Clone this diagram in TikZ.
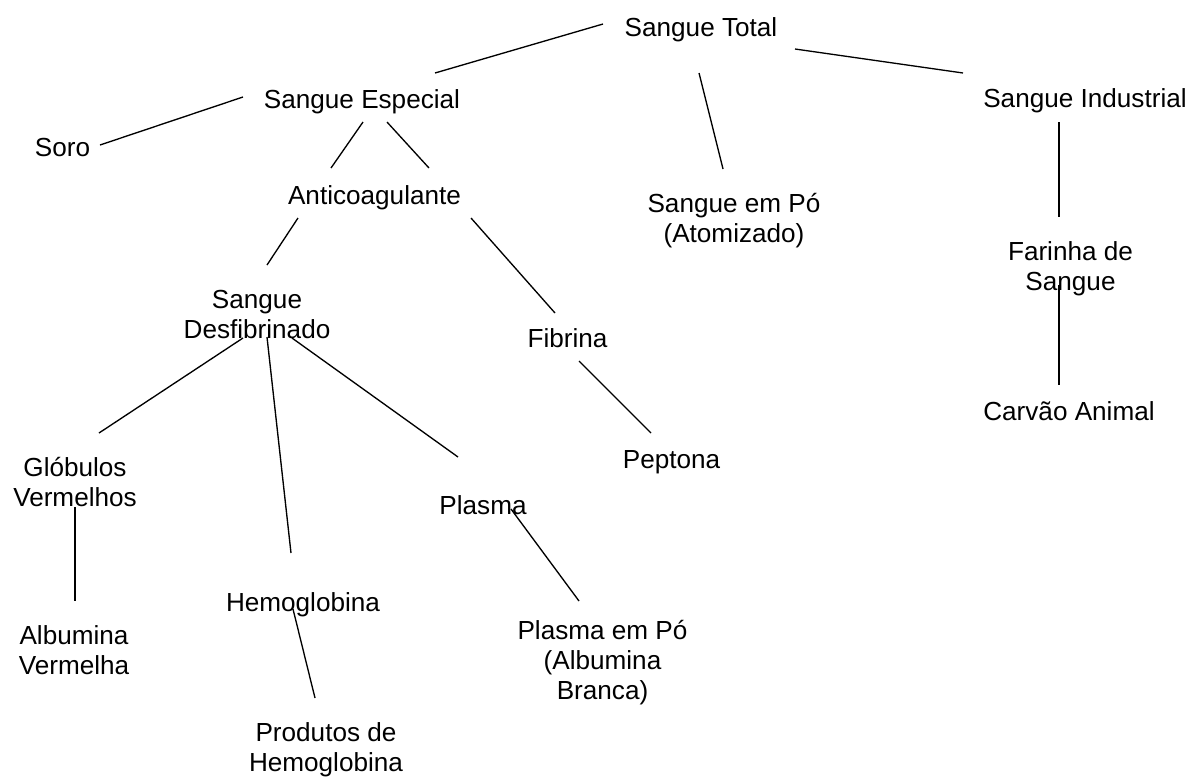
\documentclass[tikz,border=0pt]{standalone}
\usepackage{fontspec}
\setmainfont{Liberation Sans}
\begin{document}
\begin{tikzpicture}[x=0.75pt,y=-0.75pt,
  lbl/.style={anchor=north,inner sep=0pt,align=center,font=\fontsize{19.6}{22.5}\selectfont},
  link/.style={line width=1pt,black}]
\useasboundingbox (0,0) rectangle (1193,776);
\fill[white] (0,0) rectangle (1193,776);
% nodes (north anchor = first baseline - 21px)
\node[lbl] (total) at (701,15) {\strut Sangue Total};
\node[lbl] (esp) at (362,87) {\strut Sangue Especial};
\node[lbl] (ind) at (1085,86) {\strut Sangue Industrial};
\node[lbl] (soro) at (62.5,135) {\strut Soro};
\node[lbl] (anti) at (374.5,183) {\strut Anticoagulante};
\node[lbl] (po) at (734,191) {\strut Sangue em Pó\\(Atomizado)};
\node[lbl] (far) at (1070.5,239) {\strut Farinha de\\Sangue};
\node[lbl] (desf) at (257,287) {\strut Sangue\\Desfibrinado};
\node[lbl] (fib) at (567.5,326) {\strut Fibrina};
\node[lbl] (carv) at (1069,399) {\strut Carvão Animal};
\node[lbl] (glob) at (75,455) {\strut Glóbulos\\Vermelhos};
\node[lbl] (pep) at (671.5,447) {\strut Peptona};
\node[lbl] (plas) at (483,493) {\strut Plasma};
\node[lbl] (hemo) at (303,590) {\strut Hemoglobina};
\node[lbl] (albv) at (74,623) {\strut Albumina\\Vermelha};
\node[lbl] (plpo) at (602.5,618) {\strut Plasma em Pó\\(Albumina\\Branca)};
\node[lbl] (prod) at (326,720) {\strut Produtos de\\Hemoglobina};
% connectors
\draw[link] ([shift={(73,-14)}]esp.north) -- ([shift={(-98,9)}]total.north);
\draw[link] ([shift={(94,34)}]total.north) -- ([shift={(-122,-13)}]ind.north);
\draw[link] ([shift={(-2,58)}]total.north) -- ([shift={(-11,-22)}]po.north);
\draw[link] ([shift={(37.5,10)}]soro.north) -- ([shift={(-119,10)}]esp.north);
\draw[link] ([shift={(1,35)}]esp.north) -- ([shift={(-43.5,-15)}]anti.north);
\draw[link] ([shift={(25,35)}]esp.north) -- ([shift={(54.5,-15)}]anti.north);
\draw[link] ([shift={(-26,36)}]ind.north) -- ([shift={(-11.5,-22)}]far.north);
\draw[link] ([shift={(-76.5,35)}]anti.north) -- ([shift={(10,-22)}]desf.north);
\draw[link] ([shift={(96.5,35)}]anti.north) -- ([shift={(-12.5,-13)}]fib.north);
\draw[link] ([shift={(-11.5,46)}]far.north) -- ([shift={(-10,-14)}]carv.north);
\draw[link] ([shift={(-14,51)}]desf.north) -- ([shift={(24,-22)}]glob.north);
\draw[link] ([shift={(10,50)}]desf.north) -- ([shift={(-12,-37)}]hemo.north);
\draw[link] ([shift={(35,51)}]desf.north) -- ([shift={(-25,-36)}]plas.north);
\draw[link] ([shift={(11.5,35)}]fib.north) -- ([shift={(-20.5,-14)}]pep.north);
\draw[link] ([shift={(0,52)}]glob.north) -- ([shift={(1,-22)}]albv.north);
\draw[link] ([shift={(28,16)}]plas.north) -- ([shift={(-23.5,-17)}]plpo.north);
\draw[link] ([shift={(-10,19)}]hemo.north) -- ([shift={(-11,-22)}]prod.north);
\end{tikzpicture}
\end{document}
